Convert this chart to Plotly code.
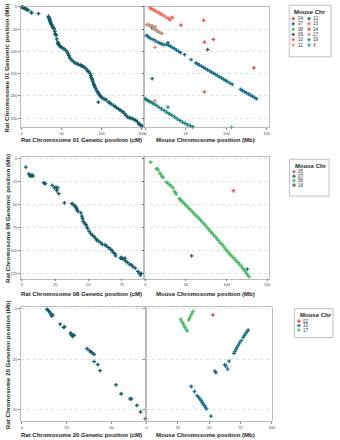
import plotly.graph_objects as go

W, H = 340, 440
FONT = "Liberation Sans, Arial, sans-serif"
RAT_COLOR = "#135b6b"

# ---------------- Row 1 : Rat chromosome 01 ----------------
r1_genetic = [(0,0),(0.5,1),(1,0.5),(2,2),(2.5,1.5),(3.5,3),(5,4.5),(5.8,5),(7,6),(7.8,7.5),(12,12),(12.5,13.5),(21,15),
    (33.5,21),(34,24),(34.5,26),(35,28),(35.2,30),(35.8,33),(36,35),(36.6,37.5),(37.2,39),(37.9,41),(38.3,43),(38.7,45),
    (39.5,47),(40.7,49),(41.5,55),(42,60),(42.5,62),(43,64),(44,72),(45,79),(45.3,81),(45.7,83),(46.2,84),(47,86),(48,88),
    (49,90),(51,92),(53,94),(55,97),(57,101),(58,105),(59,109),(60,113),(61,116),(63,120),(65,123),(67,126),(69.5,128),
    (71,129),(73.5,131),(75,132),(76,133),(78,135),(80,138),(82,142),(83,144),(84,146),(86,150),(86.5,154),(87,158),
    (88,161),(88.5,164),(89,167),(90,172),(90.5,175),(91,177),(92,180),(93,184),(94,188),(95,191),(96,193),(97,196),
    (98,199),(99,201),(100,203),(102,206),(96,214),(104,207),(106,209),(109,214),(110,215),(112,218),(115,221),(117,224),
    (119,226),(121,229),(123,231),(125,234),(127,236),(129,240),(131,244),(133,248),(135,249),(137,250),(139,251),
    (141,253),(143,255),(145,258),(147,263),(148,264),(149,266),(151,268)]

r1_chr = ['04','07','08','09','10','11','12','13','14','17','19','X']
r1_col = ['#e84a4a','#1c6e8c','#4cbb68','#555555','#e65a4e','#ef8a74','#127a5e','#ef7462','#e8504c','#c29480','#15807c','#2090a0']

r1_m04 = [(44,41),(134,137)]
r1_m07 = [(1.6,63.8),(2.8,66),(4.5,68.3),(6.9,71.3),(9.8,73.5),(12.6,76.5),(15.9,79.5),(18.3,81.8),(20.7,83.3),
    (23.2,84.8),(26,84.8),(28,80.3),(28.9,86.3),(31.3,88.5),(33.7,91.5),(36.2,93.8),(38.6,96.8),(41.1,99.8),(43.5,102.8),
    (48.4,107.3),(56.5,118.5),(62.6,126),(64.6,128.2),(67,130.5),(69.5,133.4),(72,136),(74.4,138.7),(76.8,141.3),
    (79.3,143.8),(81.7,146.5),(84.1,149.2),(86.6,151.6),(89,154.4),(91.5,157),(93.9,159.5),(96.3,162.2),(98.8,164.8),
    (101.2,167.5),(104.5,171),(107.3,174),(117.5,185.3),(119.9,187.8),(122.4,190.4),(124.8,193),(127.2,195.5),
    (129.7,198),(132.1,200.6),(134.6,203.2),(137,206.3)]
r1_m08 = [(106.5,270)]
r1_m09 = [(7.7,45.8),(10.6,48.8),(77,96)]
r1_m10 = [(72,30),(73,191)]
r1_m11 = [(12,91),(12,211)]
r1_m12 = [(8.5,161)]
r1_m13 = [(5.7,2.3),(6.9,3.8),(8.5,5.3),(10.2,6.8),(11.8,8.3),(13.8,9.8),(15.9,12.8),(17.5,14.3),(19.1,15.8),
    (20.7,17.3),(23.2,20.3),(26,23.3),(28.9,26.3),(30.5,29.3),(32.1,24.8),(33.7,23.3)]
r1_m14 = [(73,79),(84,73)]
r1_m17 = [(1.6,39.8),(3.7,39.8),(5.3,41.3),(6.9,42.8),(8.5,41.3),(9.8,45),(11,47.3),(11.8,50.3),(12.6,45),
    (13.8,52.5),(15,54.8),(16.7,56.3),(18.3,57.8),(20.7,60)]
r1_m19 = [(0,206.3),(1.6,208.5),(3.7,210.8),(6.1,213),(8.5,215.3),(11,218.3),(13.8,221.3),(16.7,225),(19.9,228.8),
    (23.2,232.5),(26.4,236.3),(29.7,240),(32.9,243.8),(36.2,247.5),(39.4,251.3),(42.7,255),(45.9,258.8),(49.2,261.8),
    (52.4,264.8),(55.7,267),(58.5,269.3),(60.6,270.8)]
r1_mX = [(28,225)]
r1_series = [r1_m04, r1_m07, r1_m08, r1_m09, r1_m10, r1_m11, r1_m12, r1_m13, r1_m14, r1_m17, r1_m19, r1_mX]

# ---------------- Row 2 : Rat chromosome 08 ----------------
r2_genetic = [(3,9.4),(5.4,16.6),(5.9,17.7),(6.4,19),(7.2,18.7),(7.9,18),(8.4,19),(16.6,26.3),(17.6,27.4),(22.8,29.2),
    (24.5,32),(25.7,31),(27,32),(26.2,35),(27.7,38.2),(32,48.3),(37.6,49),(38.6,50),(39.8,51.5),(40.6,53),(41,54.4),
    (41.6,56),(42,57.3),(44.3,59),(45,62.7),(45.5,65),(46,68),(46.8,70),(48,71.7),(48.5,73.5),(49.3,76),(50.5,79),
    (51.7,81.8),(53,83.6),(54.2,85),(55.4,86.8),(56,88.6),(57.4,89.7),(59.2,91.5),(60.4,93.3),(62.4,94),(63.4,95),
    (65,97),(66.6,98.7),(67.8,100.5),(68.6,102.3),(69.8,103.4),(70.3,106),(74,108.5),(74.8,107.7),(75.7,109.5),
    (77.2,108.5),(77.7,111.4),(79,113),(80.7,115),(82.2,115.7),(83.2,117.5),(85,119.3),(87,122.9),(88,124.7),
    (88.9,126.8),(89.6,125)]

r2_chr = ['05','07','08','18']
r2_col = ['#e84a4a','#1c6e8c','#4cbb68','#555555']
r2_m05 = [(108.5,35)]
r2_m07 = [(14.6,11.2),(125.6,120.4)]
r2_m08 = [(6.5,4),(13.8,11.2),(15.9,12.3),(17.9,15.9),(19,17),(20.7,19.5),(22,20.5),(26,25.6),(27.5,26.5),(30,28.5),
    (32,30),(34,32),(36,35.7),(37,37),(38,38.6),(42,43.6),(43,44.5),(44,45.8),(46,47),(48,49),(50,51),(52,52.5),
    (54,54.5),(56,56),(58,58),(60,60),(62,61.5),(64,63.5),(66,65),(68,67),(70,69),(72,71),(74,72.5),(76,75),(78,77),
    (80,79),(82,81),(84,83),(86,85),(88,87),(90,89),(92,91.5),(94,93),(96,95),(98,97.5),(100,100),(102,102),(104,104),
    (106,106),(108,107.5),(110,109.5),(112,111.5),(114,113),(116,115),(118,117),(120,119.5),(121.5,121),(123,123),
    (124.5,125),(125.6,126.5),(127.6,128.6)]
r2_m18 = [(57,106)]
r2_series = [r2_m05, r2_m07, r2_m08, r2_m18]

# ---------------- Row 3 : Rat chromosome 20 ----------------
r3_genetic = [(14.1,0.2),(14.7,0.7),(15.4,1.3),(15.8,2),(16.3,3),(16.7,3.6),(17.2,3),(21.4,7.6),(23.3,9.2),(23.8,8.9),
    (27.1,12),(27.5,12.5),(27.8,13),(28.6,12.9),(28.2,13.7),(29.1,13.2),(36.3,19.8),(37.7,20.8),(38.5,21.3),(39.2,21.9),
    (40.3,22.6),(40.3,26.2),(42.3,27.7),(43.6,30.7),(52.4,37.8),(55.3,42.2),(60.3,44.7),(61,44.7),(64.1,48),
    (66.1,51.2),(68.8,54.6)]

r3_chr = ['02','10','17']
r3_col = ['#e84a4a','#1c6e8c','#4cbb68']
r3_m02 = [(53,3)]
r3_m10 = [(69.8,22.1),(70.6,21.1),(71.4,20.1),(72.2,19.1),(73.3,18),(74.3,16.9),(75.6,15.8),(77.2,14.2),(78.3,13),
    (79.3,12),(80.4,11.2),(81.2,10.6),(65.9,26),(62.5,27.7),(63.2,28.4),(64.8,29.9),(54.6,31),(55.4,31.7),(35.7,38.6),
    (38.3,41.1),(40.4,43.1),(41.5,43.9),(42.5,44.7),(43.6,45.5),(44.4,46.4),(45.1,47.2),(46.2,48),(47,48.8),(47.8,49.7),
    (51.4,53.3)]
r3_m17 = [(37,1.3),(36.2,2.3),(35.2,3.5),(34.4,4.6),(33.6,5.6),(27.3,5.1),(28.3,6.3),(29.1,7.2),(29.9,8.2),(30.7,9.2),
    (31.7,10.2),(32.5,10.9)]
r3_series = [r3_m02, r3_m10, r3_m17]

# ---------------- Layout (pixel geometry) ----------------
def fx(p):
    return p / W

def fy(p):
    return 1 - p / H

panels = [
    # axis idx, x px domain, y px domain (top,bottom), x range, y range (top,bottom), x ticks, y ticks, y labels
    (1, (21, 146), (4.5, 126), (-1.2, 153.6), (-1, 270.7), [0, 50, 100, 150], [0, 50, 100, 150, 200, 250], True),
    (2, (146, 272), (4.5, 126), (-1.2, 152.4), (-1, 270.7), [0, 50, 100, 150], [0, 50, 100, 150, 200, 250], False),
    (3, (21, 146), (156, 278), (-0.74, 91.8), (-1.4, 130.8), [0, 25, 50, 75], [0, 25, 50, 75, 100, 125], True),
    (4, (146, 272), (156, 278), (-1.2, 151.9), (-1.4, 130.8), [0, 50, 100, 150], [0, 25, 50, 75, 100, 125], False),
    (5, (21, 147.5), (306.5, 421), (-0.55, 69), (-0.9, 55.8), [0, 25, 50], [0, 25, 50], True),
    (6, (147.5, 275), (306.5, 421), (-0.6, 100), (-0.9, 55.8), [0, 25, 50, 75, 100], [0, 25, 50], False),
]

layout = dict(
    width=W, height=H, margin=dict(l=0, r=0, t=0, b=0),
    paper_bgcolor="white", plot_bgcolor="rgba(0,0,0,0)", showlegend=False,
    font=dict(family=FONT, color="#222"), hovermode=False,
)

tickfont = dict(family=FONT, size=4, color="#444")
for idx, xd, yd, xr, yr, xt, yt, ylab in panels:
    s = "" if idx == 1 else str(idx)
    layout["xaxis" + s] = dict(
        domain=[fx(xd[0]), fx(xd[1])], range=list(xr), anchor="y" + s, tickvals=xt,
        ticks="outside", ticklen=2, tickwidth=0.6, tickcolor="#333", tickfont=tickfont,
        showgrid=False, zeroline=False, showline=True, linecolor="#a0a0a0", linewidth=0.7, mirror=True,
    )
    layout["yaxis" + s] = dict(
        domain=[fy(yd[1]), fy(yd[0])], range=[yr[1], yr[0]], anchor="x" + s, tickvals=yt,
        ticks="outside", ticklen=2, tickwidth=0.6, tickcolor="#333", tickfont=tickfont,
        showticklabels=ylab, showgrid=True, gridcolor="#bfe6e4", griddash="dot", gridwidth=0.8,
        zeroline=False, showline=True, linecolor="#a0a0a0", linewidth=0.7, mirror=True,
    )

# overlay pixel axis for legends
layout["xaxis7"] = dict(domain=[0, 1], range=[0, W], visible=False, anchor="y7")
layout["yaxis7"] = dict(domain=[0, 1], range=[H, 0], visible=False, anchor="x7")

fig = go.Figure(layout=layout)

MARK = dict(symbol="cross", size=3.2, line=dict(width=0))

def add_pts(pairs, color, axis_idx):
    s = "" if axis_idx == 1 else str(axis_idx)
    fig.add_trace(go.Scatter(
        x=[p[0] for p in pairs], y=[p[1] for p in pairs], mode="markers",
        marker=dict(color=color, **MARK), xaxis="x" + s, yaxis="y" + s, hoverinfo="skip",
        cliponaxis=False,
    ))

add_pts(r1_genetic, RAT_COLOR, 1)
for pts, c in zip(r1_series, r1_col):
    add_pts(pts, c, 2)
add_pts(r2_genetic, RAT_COLOR, 3)
for pts, c in zip(r2_series, r2_col):
    add_pts(pts, c, 4)
add_pts(r3_genetic, RAT_COLOR, 5)
for pts, c in zip(r3_series, r3_col):
    add_pts(pts, c, 6)

# ---------------- Titles ----------------
ann = []
def text(x, y, t, size, bold=True, angle=0, xanchor="center", color="#222"):
    ann.append(dict(
        x=fx(x), y=fy(y), xref="paper", yref="paper", text=("<b>%s</b>" % t) if bold else t,
        showarrow=False, font=dict(family=FONT, size=size, color=color), textangle=angle,
        xanchor=xanchor, yanchor="middle",
    ))

rows = [("01", 66, 138.5), ("08", 217, 293), ("20", 364, 435)]
for chrom, ymid, ytitle in rows:
    text(7, ymid, "Rat Chromosome %s Genomic position (Mb)" % chrom, 6.2, angle=-90)
    text(82, ytitle, "Rat Chromosome %s Genetic position (cM)" % chrom, 6)
    text(208, ytitle, "Mouse Chromosome position (Mb)", 6)

# ---------------- Legends ----------------
legends = [
    dict(box=(292.7, 3.3, 335, 55), title=(295.5, 10), first=16.7, dy=5.3, cols=[296.7, 312.7], per_col=6,
         chrs=r1_chr, cols_c=r1_col),
    dict(box=(293, 158, 333, 195), title=(296.5, 164.5), first=170.5, dy=4.5, cols=[297.5], per_col=4,
         chrs=r2_chr, cols_c=r2_col),
    dict(box=(298, 308, 337, 337), title=(301.5, 314.5), first=320.5, dy=4.5, cols=[302.5], per_col=3,
         chrs=r3_chr, cols_c=r3_col),
]
shapes = []
for lg in legends:
    x0, y0, x1, y1 = lg["box"]
    shapes.append(dict(type="rect", xref="paper", yref="paper", x0=fx(x0), x1=fx(x1), y0=fy(y1), y1=fy(y0),
                       line=dict(color="#b0b0b0", width=0.8), fillcolor="white", layer="below"))
    text(lg["title"][0], lg["title"][1], "Mouse Chr", 6, xanchor="left")
    mx, my, mc = [], [], []
    for i, (ch, col) in enumerate(zip(lg["chrs"], lg["cols_c"])):
        cx = lg["cols"][i // lg["per_col"]]
        cy = lg["first"] + (i % lg["per_col"]) * lg["dy"]
        mx.append(cx); my.append(cy); mc.append(col)
        text(cx + 2.5, cy, ch, 4.5, bold=False, xanchor="left", color="#333")
    fig.add_trace(go.Scatter(x=mx, y=my, mode="markers", marker=dict(color=mc, symbol="cross", size=3),
                             xaxis="x7", yaxis="y7", hoverinfo="skip"))

fig.update_layout(annotations=ann, shapes=shapes)
fig.write_html("out.html", config={"displayModeBar": False, "staticPlot": True},
               post_script="document.body.style.margin='0';document.body.style.overflow='hidden';")
